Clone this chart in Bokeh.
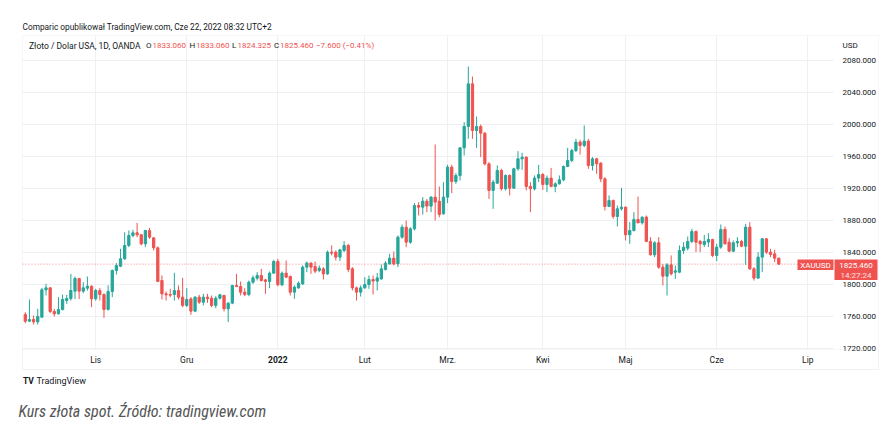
from bokeh.plotting import figure
from bokeh.models import (FixedTicker, PrintfTickFormatter, Label,
                          BoxAnnotation, Range1d, ColumnDataSource)
from bokeh.embed import file_html
from bokeh.resources import INLINE

# ---------------- data (daily XAUUSD candles, OANDA) ----------------
first_index = -17  # index 0 = first bar of November 2021

opens = [1762.5, 1754.2, 1756.3, 1753.3, 1759.2, 1793.3, 1795.8, 1766.3, 1763.3, 1768.8,
         1780.0, 1782.5, 1791.7, 1807.5, 1791.7, 1795.4, 1797.9,
         1782.1, 1792.5, 1787.5, 1768.8, 1791.3, 1817.5, 1822.9, 1832.1, 1848.8, 1861.3,
         1864.6, 1862.1, 1850.8, 1867.5, 1858.3, 1845.8, 1805.0, 1788.3, 1787.5, 1787.5,
         1792.5, 1784.2, 1773.8, 1782.0, 1766.7, 1784.2, 1777.9, 1784.2, 1782.9, 1773.8,
         1782.9, 1786.3, 1769.6, 1776.7, 1798.8, 1797.5, 1790.4, 1787.5, 1802.9, 1807.9,
         1811.3, 1805.8, 1803.8, 1814.2, 1828.8, 1799.6, 1814.2, 1810.0, 1790.4, 1795.8,
         1800.8, 1821.7, 1826.7, 1822.5, 1817.5, 1819.6, 1813.3, 1840.4, 1840.4, 1834.2,
         1842.5, 1848.8, 1819.6, 1795.8, 1790.4, 1795.8, 1800.0, 1806.3, 1804.2, 1807.0,
         1818.8, 1825.8, 1832.9, 1825.8, 1859.2, 1871.7, 1852.9, 1869.6, 1898.8, 1896.7,
         1904.2, 1898.0, 1909.2, 1904.0, 1888.3, 1909.2, 1946.7, 1928.8, 1936.3, 1970.8,
         1997.5, 2050.8, 1992.5, 1997.5, 1989.2, 1950.8, 1917.5, 1926.7, 1942.5, 1919.6,
         1936.3, 1920.4, 1944.6, 1957.1, 1959.2, 1922.5, 1919.6, 1933.0, 1937.5, 1925.0,
         1933.0, 1922.5, 1925.8, 1930.8, 1947.5, 1955.0, 1967.5, 1978.0, 1973.8, 1979.2,
         1948.8, 1957.1, 1951.7, 1932.1, 1897.5, 1905.0, 1885.0, 1894.6, 1896.7, 1862.1,
         1867.5, 1881.3, 1877.1, 1884.2, 1853.8, 1837.1, 1852.1, 1821.7, 1810.4, 1824.6,
         1815.4, 1815.4, 1842.5, 1845.4, 1853.8, 1866.3, 1853.8, 1850.0, 1853.0, 1856.3,
         1836.3, 1846.7, 1868.8, 1852.9, 1841.7, 1852.1, 1853.8, 1847.9, 1871.7, 1819.6,
         1808.0, 1834.2, 1857.1, 1840.4, 1838.3, 1833.06]

highs = [1765.4, 1781.3, 1761.3, 1769.6, 1795.8, 1800.8, 1796.7, 1769.6, 1784.2, 1787.5,
         1787.0, 1813.3, 1810.0, 1808.3, 1802.9, 1810.0, 1798.8,
         1794.6, 1795.8, 1789.0, 1798.8, 1818.8, 1826.7, 1844.6, 1865.4, 1867.5, 1868.3,
         1877.0, 1863.3, 1868.3, 1870.8, 1859.2, 1847.5, 1811.3, 1791.3, 1794.6, 1814.6,
         1798.8, 1808.3, 1795.4, 1784.2, 1785.4, 1787.1, 1788.3, 1788.3, 1786.3, 1785.4,
         1788.3, 1787.1, 1777.9, 1799.6, 1813.3, 1803.8, 1795.4, 1805.0, 1811.3, 1815.4,
         1819.6, 1807.1, 1816.3, 1830.8, 1832.1, 1816.3, 1830.0, 1811.3, 1798.8, 1803.8,
         1823.8, 1828.8, 1827.9, 1828.8, 1823.8, 1821.7, 1842.5, 1848.8, 1842.5, 1844.6,
         1854.2, 1850.8, 1821.7, 1797.5, 1798.8, 1809.2, 1811.3, 1811.3, 1814.2, 1825.0,
         1829.2, 1838.3, 1841.3, 1861.3, 1875.0, 1880.0, 1871.7, 1901.7, 1902.9, 1909.2,
         1907.0, 1910.4, 1975.0, 1922.5, 1927.9, 1949.6, 1949.6, 1939.2, 1971.7, 2002.9,
         2072.5, 2060.0, 2010.0, 2000.0, 1990.4, 1952.9, 1930.8, 1948.8, 1944.6, 1937.5,
         1937.5, 1946.0, 1966.7, 1964.6, 1960.0, 1927.9, 1936.3, 1949.6, 1939.2, 1936.3,
         1945.8, 1927.9, 1936.3, 1948.8, 1970.8, 1969.6, 1982.1, 1980.8, 1998.8, 1982.1,
         1959.2, 1958.3, 1952.9, 1934.2, 1911.3, 1906.3, 1898.8, 1920.8, 1897.5, 1877.9,
         1890.4, 1910.0, 1885.0, 1886.3, 1859.2, 1854.2, 1859.2, 1825.8, 1826.7, 1836.3,
         1823.8, 1848.8, 1852.9, 1860.0, 1869.6, 1867.5, 1855.8, 1862.0, 1864.2, 1857.1,
         1850.8, 1875.0, 1872.5, 1857.9, 1855.0, 1859.2, 1855.8, 1875.8, 1877.9, 1821.7,
         1840.4, 1858.3, 1857.9, 1844.6, 1843.3, 1833.06]

lows = [1751.7, 1753.0, 1750.0, 1750.0, 1758.3, 1786.3, 1764.2, 1760.0, 1762.5, 1767.5,
        1775.8, 1780.0, 1781.7, 1781.7, 1789.2, 1792.5, 1771.7,
        1780.0, 1780.0, 1758.3, 1767.5, 1784.2, 1812.5, 1821.7, 1830.8, 1846.7, 1859.0,
        1859.2, 1848.8, 1846.7, 1857.1, 1842.5, 1802.9, 1781.3, 1780.0, 1784.2, 1780.0,
        1781.3, 1771.7, 1771.7, 1762.1, 1765.4, 1775.8, 1773.8, 1777.1, 1771.7, 1770.4,
        1781.3, 1766.3, 1753.0, 1775.4, 1796.7, 1786.3, 1785.4, 1785.4, 1800.8, 1805.0,
        1803.8, 1788.3, 1795.4, 1813.3, 1797.9, 1797.9, 1808.0, 1786.3, 1782.1, 1794.6,
        1799.6, 1815.4, 1813.3, 1814.2, 1815.4, 1806.3, 1812.1, 1836.3, 1830.0, 1829.2,
        1840.4, 1815.4, 1792.5, 1780.0, 1785.0, 1794.6, 1794.6, 1787.5, 1792.5, 1805.8,
        1817.5, 1825.0, 1823.8, 1821.7, 1857.1, 1846.7, 1850.8, 1867.5, 1886.3, 1887.5,
        1890.4, 1890.4, 1880.0, 1884.0, 1887.5, 1901.7, 1914.2, 1925.8, 1930.0, 1961.3,
        1982.1, 1982.1, 1970.8, 1959.2, 1948.8, 1907.1, 1894.6, 1925.8, 1917.5, 1917.5,
        1911.3, 1919.6, 1942.5, 1943.3, 1917.5, 1890.4, 1917.5, 1927.9, 1918.3, 1915.4,
        1921.7, 1915.4, 1925.0, 1929.2, 1946.7, 1952.9, 1965.4, 1962.5, 1971.7, 1944.6,
        1942.5, 1938.3, 1927.9, 1892.5, 1896.7, 1882.1, 1872.5, 1892.5, 1855.0, 1850.8,
        1866.3, 1876.7, 1875.0, 1852.9, 1836.3, 1834.2, 1819.6, 1798.8, 1786.3, 1811.3,
        1807.0, 1814.2, 1838.3, 1842.5, 1851.7, 1840.4, 1840.4, 1846.7, 1846.7, 1834.2,
        1829.2, 1844.6, 1850.0, 1840.4, 1840.4, 1846.7, 1846.7, 1824.6, 1818.3, 1805.0,
        1807.1, 1815.4, 1838.3, 1834.2, 1827.9, 1824.325]

closes = [1754.2, 1756.3, 1753.3, 1760.0, 1793.3, 1795.8, 1766.3, 1763.3, 1768.8, 1781.3,
          1782.5, 1792.5, 1807.5, 1791.7, 1795.8, 1797.9, 1782.1,
          1792.5, 1787.5, 1768.8, 1791.3, 1817.5, 1823.8, 1832.1, 1848.8, 1861.3, 1864.6,
          1862.1, 1850.8, 1867.5, 1859.2, 1845.8, 1803.8, 1788.3, 1787.1, 1786.7, 1792.5,
          1784.2, 1773.8, 1781.3, 1766.7, 1784.2, 1777.9, 1784.2, 1782.1, 1773.8, 1782.9,
          1787.1, 1769.6, 1776.7, 1798.8, 1797.5, 1790.4, 1787.5, 1802.9, 1808.3, 1811.3,
          1805.0, 1803.8, 1814.2, 1828.8, 1799.6, 1814.2, 1809.2, 1790.4, 1796.7, 1801.7,
          1821.7, 1826.7, 1821.7, 1816.7, 1820.4, 1813.3, 1840.4, 1839.2, 1834.2, 1843.3,
          1848.8, 1818.8, 1795.8, 1790.4, 1795.8, 1800.0, 1806.3, 1804.2, 1808.3, 1819.6,
          1826.7, 1832.9, 1825.8, 1859.2, 1871.7, 1852.9, 1869.6, 1898.8, 1896.7, 1904.2,
          1898.0, 1909.2, 1903.0, 1887.5, 1909.2, 1946.7, 1928.8, 1936.3, 1970.8, 1997.5,
          2050.8, 1992.5, 1997.5, 1989.2, 1950.8, 1917.5, 1928.0, 1942.5, 1919.6, 1936.3,
          1920.4, 1944.6, 1957.1, 1959.2, 1922.5, 1919.6, 1933.0, 1937.5, 1925.0, 1933.0,
          1922.5, 1925.8, 1930.8, 1947.5, 1955.0, 1967.5, 1978.0, 1973.8, 1979.2, 1948.8,
          1957.1, 1950.8, 1932.1, 1897.5, 1905.0, 1885.0, 1894.6, 1896.7, 1862.1, 1867.5,
          1881.3, 1877.1, 1884.2, 1853.8, 1837.1, 1852.1, 1821.7, 1810.4, 1824.6, 1813.3,
          1817.1, 1842.5, 1846.7, 1853.8, 1866.3, 1852.9, 1850.8, 1853.8, 1856.3, 1836.3,
          1846.7, 1868.8, 1850.8, 1841.7, 1852.1, 1853.8, 1847.9, 1871.7, 1819.6, 1808.0,
          1834.2, 1857.1, 1840.4, 1837.5, 1832.9, 1825.46]

month_ticks = [0, 22, 44, 65, 85, 108, 128, 150, 172]
month_labels = ["Lis", "Gru", "2022", "Lut", "Mrz.", "Kwi", "Maj", "Cze", "Lip"]
price_ticks = [1720, 1760, 1800, 1840, 1880, 1920, 1960, 2000, 2040, 2080]

symbol = "XAUUSD"
last_open, last_high, last_low, last_close = 1833.060, 1833.060, 1824.325, 1825.460
last_change, last_pct = -7.600, -0.41
countdown = "14:27:24"
header_title = "Złoto / Dolar USA, 1D, OANDA"
published = "Comparic opublikował TradingView.com, Cze 22, 2022 08:32 UTC+2"
caption = "Kurs złota spot. Źródło: tradingview.com"

# ---------------- styling ----------------
UP, DOWN = "#26a69a", "#ef5350"
TXT = "#131722"
GRID = "#eef0f4"
BORDER = "#e0e3eb"
FONT = "Roboto"

xs = list(range(first_index, first_index + len(opens)))
colors = [UP if c >= o else DOWN for o, c in zip(opens, closes)]
src = ColumnDataSource(dict(
    x=xs, o=opens, h=highs, l=lows, c=closes, color=colors,
    top=[max(o, c) for o, c in zip(opens, closes)],
    bot=[min(o, c) for o, c in zip(opens, closes)],
))

# The frame covers the whole canvas (0..880 x 0..430); the chart pane is
# x 22..833, y 35..349, price scale x 833..878, time scale y 349..369.
W, H = 890, 430
BAR = 4.14                     # px per bar
PX_PER_USD = 0.8
X0_PAGE = 95.2                 # x of bar index 0
Y2080 = 60.0                   # y of 2080
x_lo = -X0_PAGE / BAR
x_hi = (880 - X0_PAGE) / BAR
y_hi = 2080 + Y2080 / PX_PER_USD
y_lo = 2080 - (H - Y2080) / PX_PER_USD

p = figure(width=W, height=H, output_backend="svg", toolbar_location=None, tools="",
           x_range=Range1d(x_lo, x_hi), y_range=Range1d(y_lo, y_hi),
           y_axis_location="right",
           min_border_left=0, min_border_top=0, min_border_right=10, min_border_bottom=0)
p.background_fill_color = "white"
p.border_fill_color = "white"
p.outline_line_color = None

# axes (labels pulled back into the price / time scale strips)
p.xaxis.ticker = FixedTicker(ticks=month_ticks)
p.xaxis.major_label_overrides = {t: (lab if lab != "2022" else "") for t, lab in zip(month_ticks, month_labels)}
p.yaxis.ticker = FixedTicker(ticks=price_ticks)
p.yaxis.formatter = PrintfTickFormatter(format="%.3f")
for ax in (p.xaxis[0], p.yaxis[0]):
    ax.major_tick_out = 0
    ax.major_tick_in = 0
    ax.minor_tick_out = 0
    ax.minor_tick_in = 0
    ax.axis_line_color = None
    ax.major_label_text_font = FONT
    ax.major_label_text_color = TXT
p.xaxis.major_label_text_font_size = "8.5px"
p.xaxis.major_label_standoff = -(H - 354)
p.yaxis.major_label_text_font_size = "8px"
p.yaxis.major_label_standoff = -38
p.xgrid.grid_line_color = GRID
p.ygrid.grid_line_color = GRID


def sbox(left, right, top, bottom, **kw):
    """box in page pixels (y down) -> screen units of the frame (y up)"""
    return BoxAnnotation(left=left, right=right, top=H - top, bottom=H - bottom,
                         left_units="screen", right_units="screen",
                         top_units="screen", bottom_units="screen", **kw)


# white covers outside the chart pane (hide grid there)
for l, r, t, b in [(0, 880, 0, 35), (0, 880, 349, H), (0, 22, 0, H), (833, 880, 0, H)]:
    p.add_layout(sbox(l, r, t, b, fill_color="white", fill_alpha=1, line_color=None,
                      level="underlay"))

# chart border and time-scale separator
p.add_layout(sbox(22, 878, 35, 369, fill_color=None, line_color=BORDER, line_width=1))
p.add_layout(sbox(22, 878, 349, 369, fill_color=None, line_color=BORDER, line_width=1))

# candles
p.segment(x0="x", y0="l", x1="x", y1="h", source=src, line_color="color", line_width=1)
p.vbar(x="x", width=0.55, top="top", bottom="bot", source=src,
       fill_color="color", line_color="color", line_width=1)

# last price line (inside the pane only)
p.segment(x0=[x_lo + 22 / BAR], y0=[last_close], x1=[x_lo + 833 / BAR], y1=[last_close],
          line_color=DOWN, line_width=1, line_dash="1 2", line_alpha=0.7)


def lab(text, px, py, color=TXT, size="8.5px", align="left", style="normal", font=FONT):
    p.add_layout(Label(x=px, y=H - py, x_units="screen", y_units="screen",
                       text=text, text_color=color, text_font=font,
                       text_font_size=size, text_align=align, text_baseline="middle",
                       text_font_style=style))


# published line
lab(published, 22, 26, size="8.3px")
# legend header
lab(header_title, 28.5, 45)
pieces = [("O", TXT, 6.5), (f"{last_open:.3f}", DOWN, 37.0),
          ("H", TXT, 6.5), (f"{last_high:.3f}", DOWN, 36.0),
          ("L", TXT, 5.5), (f"{last_low:.3f}", DOWN, 36.5),
          ("C", TXT, 6.0), (f"{last_close:.3f}", DOWN, 36.0),
          (f"\u2212{abs(last_change):.3f} (\u2212{abs(last_pct):.2f}%)", DOWN, 0)]
cx = 145.5
for t, col, adv in pieces:
    lab(t, cx, 45, color=col, size="8px")
    cx += adv
lab("USD", 842, 44.5, size="8px")

# bold 2022 on time axis
p.add_layout(Label(x=44, y=H - 359, x_units="data", y_units="screen", text="2022",
                   text_color=TXT, text_font=FONT, text_font_size="8.5px",
                   text_font_style="bold", text_align="center", text_baseline="middle"))

# price tags
p.add_layout(sbox(797, 833, 259, 269.5, fill_color=DOWN, fill_alpha=1, line_color=None))
p.add_layout(sbox(834, 877, 259, 279.5, fill_color=DOWN, fill_alpha=1, line_color=None))
lab(symbol, 815, 264.5, color="white", size="8px", align="center")
lab(f"{last_close:.3f}", 855.5, 264.5, color="white", size="8px", align="center")
lab(countdown, 855.5, 274.5, color="#fde0e0", size="8px", align="center")

# footer
lab("TV", 22.5, 380.5, size="8.5px", style="bold")
lab("TradingView", 36, 380.5, size="9px")
lab(caption, 18, 411, color="#555555", size="16px", style="italic", font="Roboto Condensed")

open("out.html", "w").write(file_html(p, INLINE))
